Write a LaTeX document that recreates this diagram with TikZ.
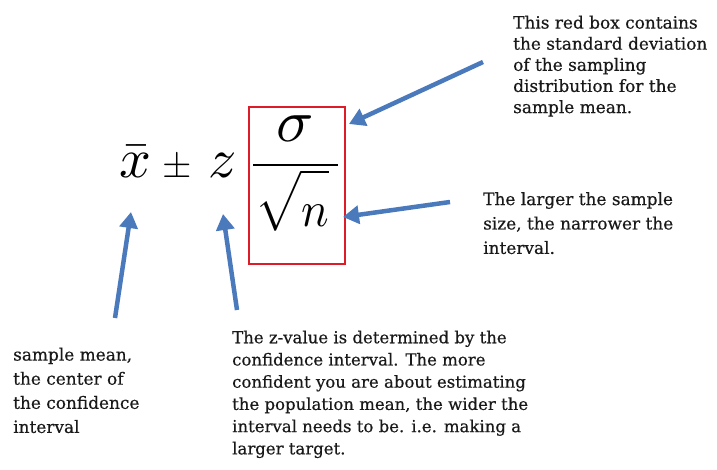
\documentclass[tikz,border=0pt]{standalone}
\usepackage{graphicx}
\usepackage{fontspec}
\newfontfamily\notefont[FakeBold=0.5]{DejaVu Serif}
\usetikzlibrary{arrows.meta}
\definecolor{arrowblue}{RGB}{74,122,188}
\definecolor{boxred}{RGB}{222,28,40}
\tikzset{
  note/.style={anchor=north west, inner sep=0pt, align=left, text=black!90},
  bluearrow/.style={draw=arrowblue, line width=4.5bp, -{Triangle[width=18bp,length=16bp]}},
  mathpart/.style={inner sep=0pt, anchor=base west, font=\fontsize{10}{12}\selectfont},
  redframe/.style={draw=boxred, line width=2bp},
}
\begin{document}
\begin{tikzpicture}[x=1bp,y=-1bp]
\useasboundingbox (0,0) rectangle (717,470);
% formula
\node[mathpart] (xbar) at (119,178) {\scalebox{5.6}{$\bar{x}$}};
\node[mathpart] (pm) at (162,178) {\scalebox{3.8}{$\pm$}};
\node[mathpart] (zz) at (208,178) {\scalebox{5.6}{$z$}};
\node[mathpart] (sigma) at (276,142) {\scalebox{6.2}[6.0]{$\sigma$}};
\draw[line width=2bp] (253,165) -- (338,165);
\node[mathpart] (sqrtn) at (255,227) {\scalebox{4.6}[5.0]{$\sqrt{\rule{0pt}{0.95em}n}$}};
\coordinate (boxnw) at (249,107);
\coordinate (boxse) at (345,264);
\draw[redframe] (boxnw) rectangle (boxse);
% notes
\node[note, font=\notefont\fontsize{17}{21.2}\selectfont] (topnote) at (513,15.5)
  {This red box contains\\the standard deviation\\of the sampling\\distribution for the\\sample mean.};
\node[note, font=\notefont\fontsize{17}{24.5}\selectfont] (sizenote) at (483,192)
  {The larger the sample\\size, the narrower the\\interval.};
\node[note, font=\notefont\fontsize{17}{24.2}\selectfont] (meannote) at (13,347.5)
  {sample mean,\\the center of\\the confidence\\interval};
\node[note, font=\notefont\fontsize{16.6}{22.3}\selectfont] (znote) at (232,330.5)
  {The z-value is determined by the\\confidence interval. The more\\confident you are about estimating\\the population mean, the wider the\\interval needs to be. i.e. making a\\larger target.};
% arrows
\coordinate (a1s) at (483,62);
\coordinate (a1e) at (349,124);
\coordinate (a2s) at (450,202);
\coordinate (a2e) at (343,217);
\coordinate (a3s) at (115,318);
\coordinate (a3e) at (131,212);
\coordinate (a4s) at (237,310);
\coordinate (a4e) at (223,214);
\draw[bluearrow] (a1s) -- (a1e);
\draw[bluearrow] (a2s) -- (a2e);
\draw[bluearrow] (a3s) -- (a3e);
\draw[bluearrow] (a4s) -- (a4e);
\end{tikzpicture}
\end{document}
